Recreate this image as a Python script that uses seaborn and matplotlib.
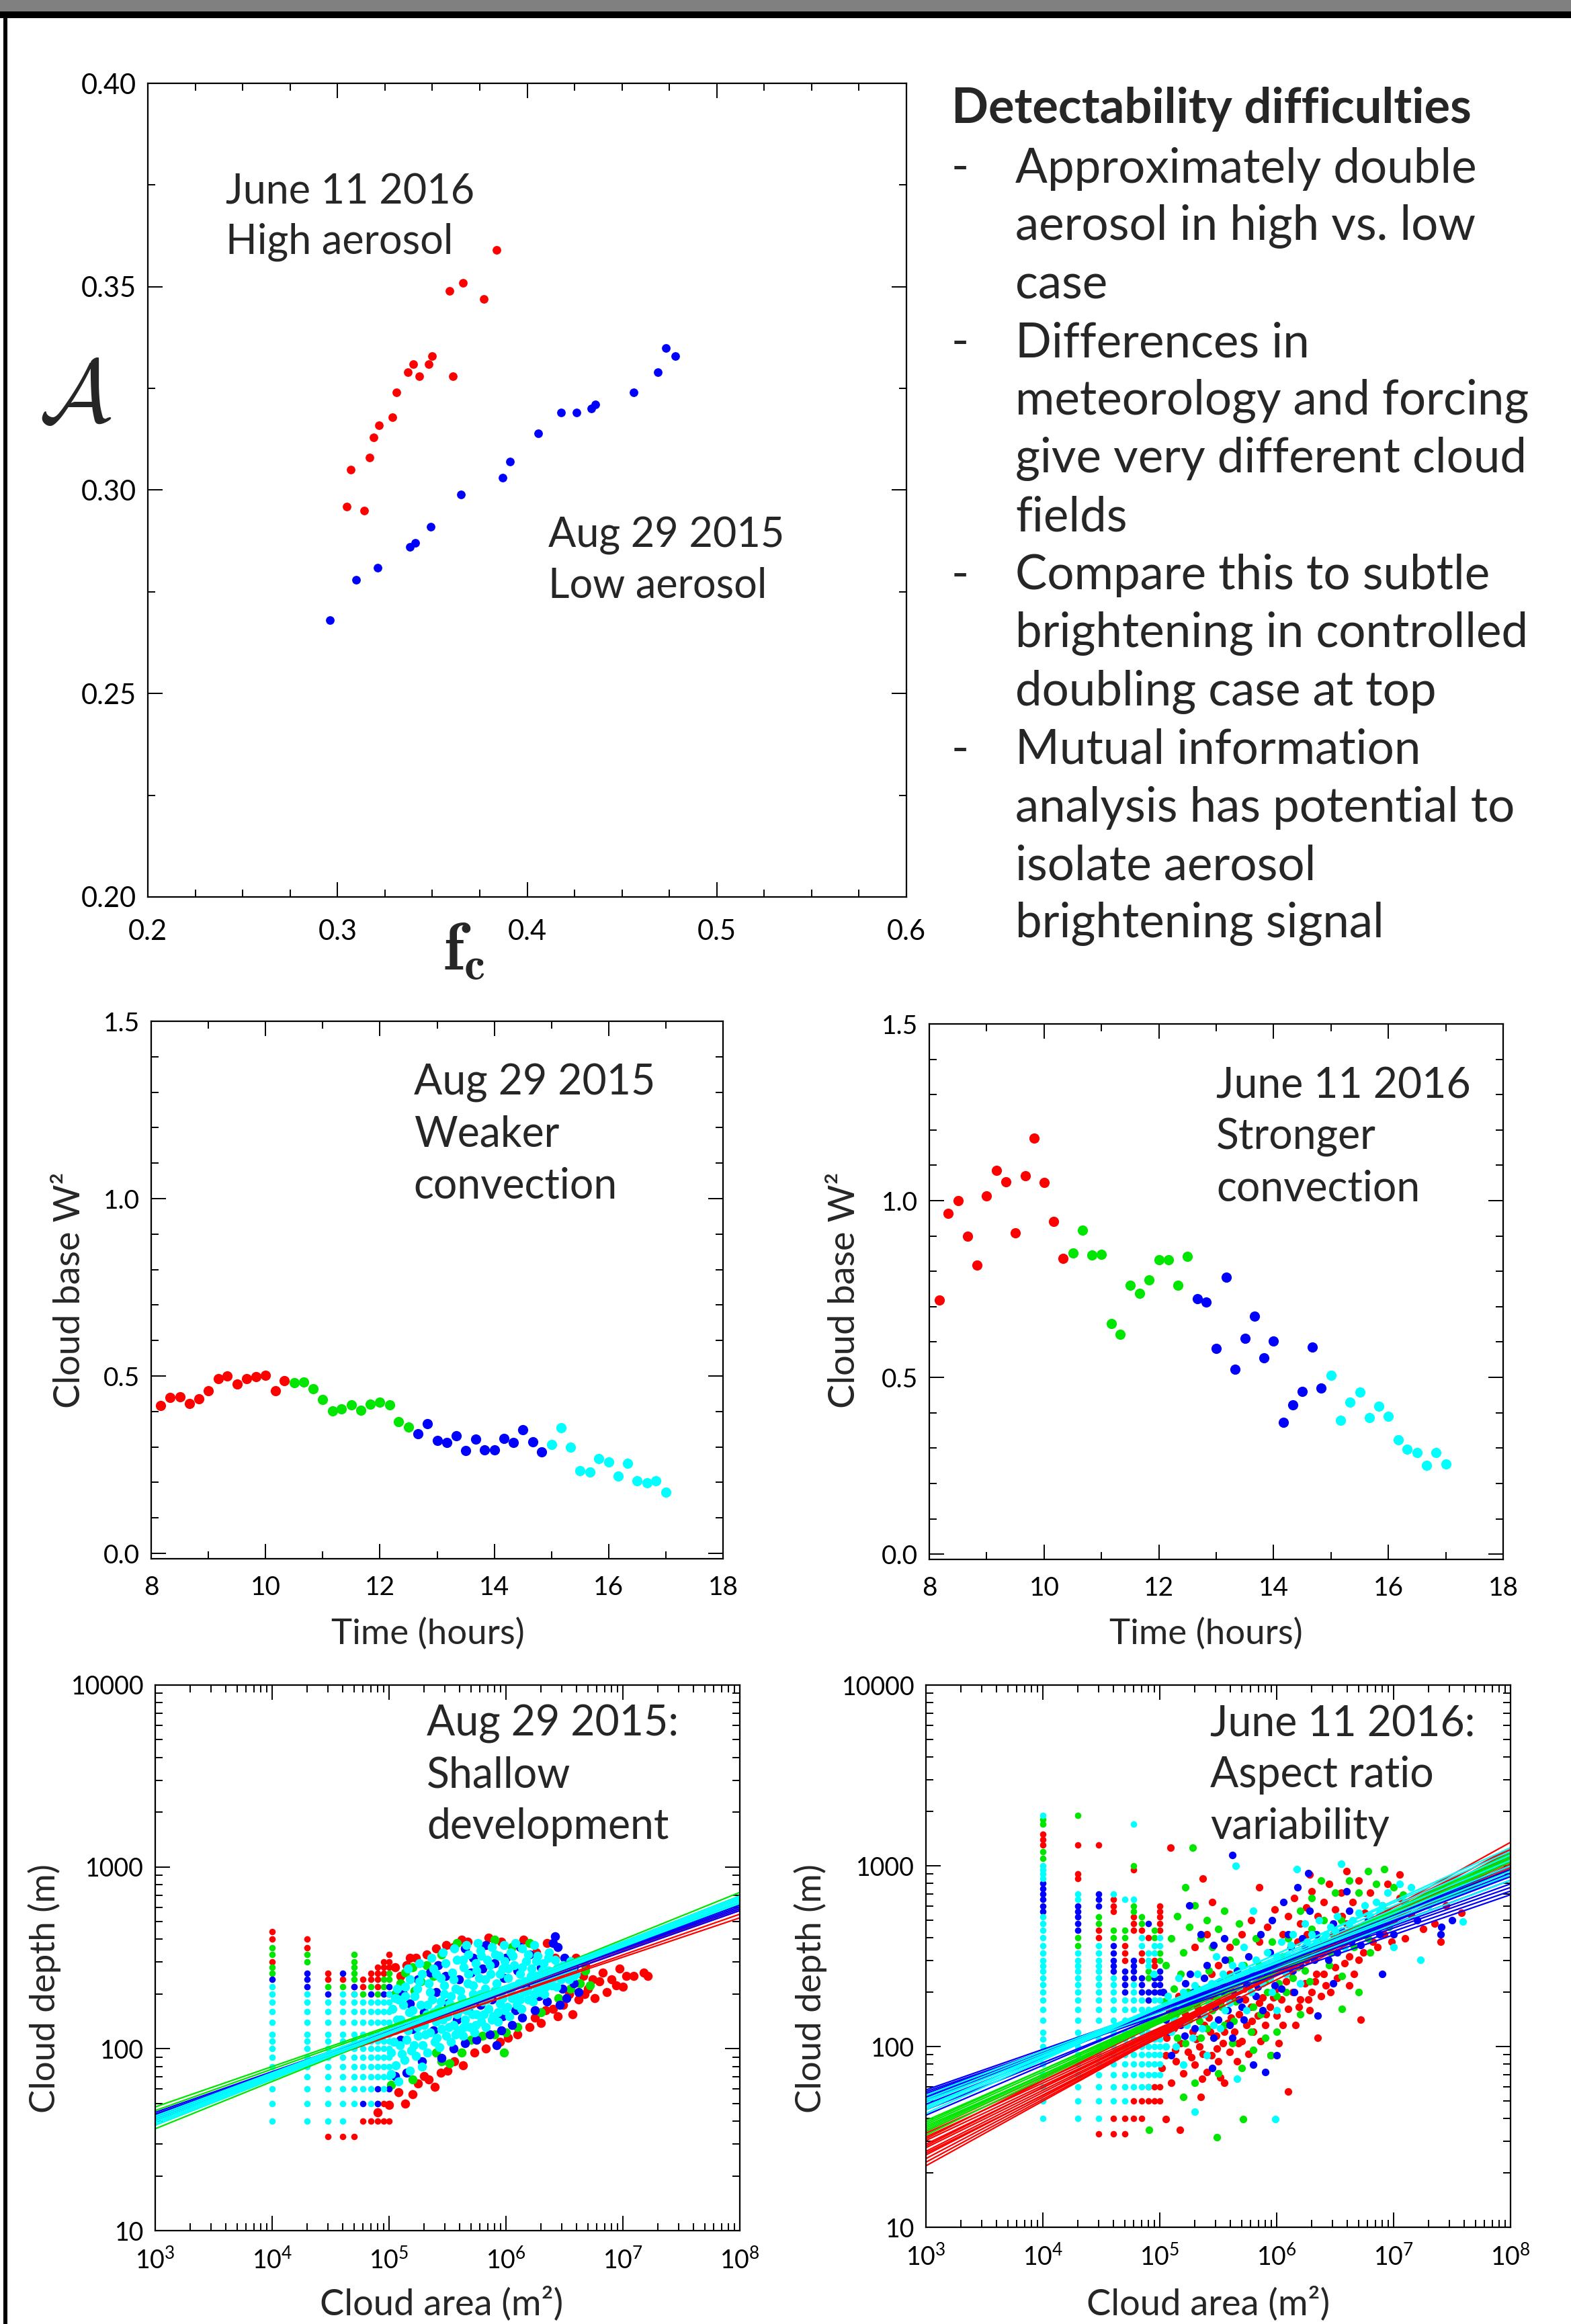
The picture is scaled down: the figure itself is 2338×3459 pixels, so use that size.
import numpy as np
import matplotlib
matplotlib.use('Agg')
import matplotlib.pyplot as plt
import seaborn as sns
from matplotlib.patches import Rectangle
from matplotlib.ticker import MultipleLocator, FixedLocator, LogLocator, NullFormatter, FormatStrFormatter

W, H = 2338, 3459
RED, GREEN, BLUE, CYAN = '#ff0000', '#00e600', '#0000ff', '#00ffff'

# ---- top panel: albedo A vs cloud fraction fc
TOP_FC_HIGH = [0.384, 0.366, 0.359, 0.377, 0.350, 0.340, 0.348, 0.337, 0.343, 0.361, 0.331, 0.329, 0.322, 0.319, 0.317, 0.307, 0.305, 0.314]
TOP_A_HIGH = [0.359, 0.351, 0.349, 0.347, 0.333, 0.331, 0.331, 0.329, 0.328, 0.328, 0.324, 0.318, 0.316, 0.313, 0.308, 0.305, 0.296, 0.295]
TOP_FC_LOW = [0.473, 0.478, 0.469, 0.456, 0.436, 0.434, 0.426, 0.418, 0.406, 0.391, 0.387, 0.365, 0.349, 0.341, 0.338, 0.321, 0.310, 0.296]
TOP_A_LOW = [0.335, 0.333, 0.329, 0.324, 0.321, 0.320, 0.319, 0.319, 0.314, 0.307, 0.303, 0.299, 0.291, 0.287, 0.286, 0.281, 0.278, 0.268]

# ---- middle panels: cloud base W^2 vs time
T_RED = [8.17, 8.33, 8.50, 8.67, 8.83, 9.00, 9.17, 9.33, 9.50, 9.67, 9.83, 10.00, 10.17, 10.33]
T_GREEN = [10.50, 10.67, 10.83, 11.00, 11.17, 11.33, 11.50, 11.67, 11.83, 12.00, 12.17, 12.33, 12.50]
T_BLUE = [12.67, 12.83, 13.00, 13.17, 13.33, 13.50, 13.67, 13.83, 14.00, 14.17, 14.33, 14.50, 14.67, 14.83]
T_CYAN = [15.00, 15.17, 15.33, 15.50, 15.67, 15.83, 16.00, 16.17, 16.33, 16.50, 16.67, 16.83, 17.00]

AUG_W2_RED = [0.416, 0.440, 0.442, 0.423, 0.436, 0.459, 0.493, 0.501, 0.478, 0.492, 0.498, 0.502, 0.459, 0.486]
AUG_W2_GREEN = [0.481, 0.483, 0.464, 0.433, 0.402, 0.408, 0.418, 0.404, 0.421, 0.426, 0.418, 0.372, 0.356]
AUG_W2_BLUE = [0.337, 0.366, 0.319, 0.312, 0.332, 0.290, 0.323, 0.291, 0.291, 0.324, 0.313, 0.348, 0.315, 0.287]
AUG_W2_CYAN = [0.307, 0.354, 0.299, 0.234, 0.230, 0.267, 0.258, 0.217, 0.253, 0.204, 0.199, 0.205, 0.173]

JUN_W2_RED = [0.719, 0.964, 1.001, 0.899, 0.818, 1.014, 1.086, 1.054, 0.908, 1.070, 1.176, 1.052, 0.941, 0.837]
JUN_W2_GREEN = [0.851, 0.917, 0.847, 0.848, 0.652, 0.622, 0.761, 0.737, 0.775, 0.832, 0.832, 0.761, 0.842]
JUN_W2_BLUE = [0.723, 0.713, 0.582, 0.784, 0.522, 0.610, 0.674, 0.556, 0.602, 0.372, 0.422, 0.460, 0.585, 0.470]
JUN_W2_CYAN = [0.505, 0.378, 0.429, 0.459, 0.386, 0.418, 0.390, 0.323, 0.297, 0.288, 0.252, 0.287, 0.255]

# ---- bottom panels: cloud depth vs cloud area
# small clouds sit on the grid: discrete areas, depths on model levels
DEPTH_LEVELS = [33, 40, 50, 60, 70, 80, 90, 100, 110, 120, 140, 160, 180, 200, 220, 240, 260, 280, 300,
                330, 360, 400, 440, 480, 520, 560, 600, 650, 700, 750, 800, 850, 900, 950, 1000,
                1100, 1200, 1300, 1400, 1500, 1600, 1700, 1800, 1900]

AUG_RED_STRIPES = [(1e4, [(300, 300), (400, 440)]), (2e4, [(360, 400)]), (3e4, [(33, 33), (240, 260)]),
                   (4e4, [(33, 33), (240, 240)]), (5e4, [(33, 33), (200, 220)]), (6e4, [(40, 40), (220, 240)]),
                   (7e4, [(40, 40), (240, 260)]), (8e4, [(40, 50), (220, 280)]), (9e4, [(40, 50), (260, 300)]),
                   (1e5, [(40, 50), (280, 330)])]
AUG_GREEN_STRIPES = [(1e4, [(260, 280), (330, 360)]), (2e4, [(300, 330)]), (3e4, [(220, 220)]), (4e4, [(220, 220)]),
                     (5e4, [(240, 330)]), (6e4, [(200, 200)]), (7e4, [(220, 220)]), (8e4, [(200, 200)]),
                     (9e4, [(220, 240)]), (1e5, [(240, 260)])]
AUG_BLUE_STRIPES = [(1e4, [(240, 240)]), (2e4, [(220, 260)]), (3e4, [(200, 200)]), (4e4, [(260, 260)]),
                    (5e4, [(220, 220)]), (6e4, [(50, 50)]), (7e4, [(200, 200)]), (8e4, [(50, 60)]),
                    (9e4, [(200, 200)]), (1e5, [(60, 60), (200, 220)])]
AUG_CYAN_STRIPES = [(1e4, [(40, 220)]), (2e4, [(40, 200)]), (3e4, [(40, 180)]), (4e4, [(40, 200)]),
                    (5e4, [(50, 200)]), (6e4, [(60, 180)]), (7e4, [(50, 180)]), (8e4, [(70, 180)]),
                    (9e4, [(60, 180)]), (1e5, [(70, 200)])]

JUN_RED_STRIPES = [(1e4, [(1300, 1500)]), (2e4, [(850, 900), (1300, 1300)]), (3e4, [(33, 33), (400, 440), (1300, 1300)]),
                   (4e4, [(33, 40), (560, 650)]), (5e4, [(33, 40), (300, 360)]), (6e4, [(40, 50), (440, 520), (950, 950)]),
                   (7e4, [(40, 50), (300, 330), (440, 440)]), (8e4, [(50, 60), (400, 400)]), (9e4, [(50, 60), (280, 300)]),
                   (1e5, [(50, 60), (440, 600)])]
JUN_GREEN_STRIPES = [(1e4, [(1100, 1200), (1700, 1800)]), (2e4, [(360, 400), (1900, 1900)]), (3e4, [(480, 520)]),
                     (4e4, [(400, 440)]), (5e4, [(400, 440)]), (6e4, [(560, 600), (1000, 1000)]), (7e4, [(480, 520)]),
                     (8e4, [(240, 260)]), (9e4, [(400, 440)]), (1e5, [(300, 330)])]
JUN_BLUE_STRIPES = [(1e4, [(560, 800)]), (2e4, [(420, 600)]), (3e4, [(600, 700)]), (4e4, [(260, 360)]),
                    (5e4, [(200, 260)]), (6e4, [(240, 300)]), (7e4, [(200, 240)]), (8e4, [(180, 200), (480, 480)]),
                    (9e4, [(200, 240)]), (1e5, [(200, 260)])]
JUN_CYAN_STRIPES = [(1e4, [(40, 520), (850, 1000), (1900, 1900)]), (2e4, [(40, 330), (650, 700)]), (3e4, [(40, 360)]),
                    (4e4, [(50, 240), (700, 700)]), (5e4, [(50, 180), (650, 650)]),
                    (6e4, [(60, 220), (650, 650), (1700, 1700)]), (7e4, [(60, 180), (360, 400)]), (8e4, [(60, 160), (280, 330)]),
                    (9e4, [(70, 180), (330, 360)]), (1e5, [(70, 180), (360, 400)])]

# larger clouds, (log10 area, log10 depth)
AUG_RED_CLOUD = [(5.18, 2.50), (5.23, 2.50), (5.49, 2.57), (5.55, 2.56), (5.67, 2.59), (5.96, 2.59), (6.26, 2.53),
                 (6.42, 2.50), (6.97, 2.44), (7.03, 2.40), (7.09, 2.40), (7.21, 2.40), (7.18, 2.42), (6.94, 2.35),
                 (6.86, 2.31), (6.80, 2.37), (6.74, 2.38), (6.67, 2.30), (6.57, 2.19), (6.49, 2.24), (6.34, 2.21),
                 (6.02, 2.06), (5.83, 2.00), (5.73, 1.98), (5.63, 1.91), (5.56, 1.93), (5.44, 1.87), (5.39, 1.79),
                 (5.25, 1.81), (5.14, 1.70), (5.00, 1.69), (4.90, 1.65), (6.70, 2.33), (6.76, 2.28), (6.62, 2.27),
                 (6.90, 2.38), (7.00, 2.34), (6.83, 2.42), (6.66, 2.40), (6.54, 2.30), (6.44, 2.18), (6.20, 2.12),
                 (6.10, 2.08), (5.95, 2.04), (5.30, 1.85), (5.50, 1.88), (5.10, 2.40), (5.05, 2.45), (5.15, 2.46),
                 (5.32, 2.52), (5.40, 2.55), (5.62, 2.60), (5.85, 2.61), (6.15, 2.60), (6.35, 2.58), (6.60, 2.50),
                 (6.68, 2.46), (6.25, 2.17), (5.08, 1.76), (5.20, 1.75), (5.34, 1.83), (6.30, 2.14), (6.40, 2.22)]
AUG_GREEN_CLOUD = [(5.10, 2.36), (5.14, 2.42), (5.20, 2.45), (5.27, 2.37), (5.32, 2.46), (5.22, 2.32), (5.38, 2.40),
                   (5.45, 2.52), (5.58, 2.58), (5.90, 2.60), (6.20, 2.58), (6.05, 2.56), (5.70, 2.05), (5.80, 2.07),
                   (5.90, 2.08), (6.00, 2.09), (5.62, 1.98), (5.52, 1.92), (5.45, 1.93), (6.10, 2.12), (6.30, 2.20),
                   (6.45, 2.28), (6.55, 2.33), (6.63, 2.36), (6.68, 2.43), (6.72, 2.35), (5.98, 1.98), (5.40, 1.98),
                   (5.05, 2.30), (5.02, 1.80), (5.20, 1.83)]
AUG_BLUE_CLOUD = [(5.10, 2.05), (5.20, 2.11), (5.18, 2.25), (5.30, 2.20), (5.28, 1.93), (5.38, 2.10), (5.40, 2.31),
                  (5.45, 1.95), (5.50, 2.25), (5.48, 2.40), (5.58, 2.16), (5.60, 2.38), (5.55, 2.00), (5.68, 2.21),
                  (5.70, 2.42), (5.65, 2.03), (5.78, 2.24), (5.80, 2.44), (5.75, 2.05), (5.88, 2.27), (5.90, 2.47),
                  (5.86, 2.08), (5.97, 2.18), (5.98, 2.39), (6.00, 2.50), (5.96, 2.10), (6.08, 2.21), (6.10, 2.43),
                  (6.05, 2.13), (6.18, 2.33), (6.20, 2.52), (6.14, 2.17), (6.28, 2.29), (6.30, 2.45), (6.25, 2.21),
                  (6.38, 2.40), (6.40, 2.58), (6.42, 2.62), (6.44, 2.56), (6.35, 2.26), (6.48, 2.33), (6.50, 2.50),
                  (6.58, 2.36), (6.62, 2.31), (6.52, 2.28), (5.05, 1.85), (5.15, 1.87), (5.35, 2.42), (5.25, 2.38),
                  (5.92, 2.02), (6.12, 2.56), (5.83, 2.57), (5.65, 2.55), (6.46, 2.24), (6.58, 2.45), (5.12, 2.30),
                  (5.42, 2.46), (5.72, 2.50)]
AUG_CYAN_CLOUD = [(5.02, 1.98), (5.05, 2.10), (5.03, 2.22), (5.07, 2.33), (5.09, 2.02), (5.06, 1.91), (5.10, 2.16),
                  (5.08, 2.27), (5.13, 1.94), (5.15, 2.05), (5.12, 2.12), (5.17, 2.20), (5.14, 2.29), (5.18, 2.38),
                  (5.19, 1.99), (5.16, 2.44), (5.23, 1.96), (5.25, 2.07), (5.22, 2.16), (5.27, 2.24), (5.24, 2.33),
                  (5.28, 2.41), (5.29, 2.02), (5.26, 2.47), (5.30, 2.13), (5.33, 1.98), (5.35, 2.09), (5.32, 2.19),
                  (5.37, 2.27), (5.34, 2.36), (5.38, 2.44), (5.39, 2.04), (5.36, 2.50), (5.40, 2.15), (5.43, 2.01),
                  (5.45, 2.11), (5.42, 2.22), (5.47, 2.30), (5.44, 2.39), (5.48, 2.47), (5.49, 2.07), (5.46, 2.53),
                  (5.50, 2.18), (5.53, 2.04), (5.55, 2.13), (5.52, 2.25), (5.57, 2.33), (5.54, 2.42), (5.58, 2.49),
                  (5.59, 2.10), (5.56, 2.55), (5.60, 2.21), (5.63, 2.07), (5.65, 2.16), (5.62, 2.28), (5.67, 2.36),
                  (5.64, 2.45), (5.68, 2.52), (5.69, 2.12), (5.66, 2.57), (5.70, 2.24), (5.73, 2.09), (5.75, 2.19),
                  (5.72, 2.30), (5.77, 2.39), (5.74, 2.47), (5.78, 2.54), (5.79, 2.15), (5.76, 2.58), (5.80, 2.26),
                  (5.83, 2.12), (5.85, 2.22), (5.82, 2.33), (5.87, 2.41), (5.84, 2.49), (5.88, 2.56), (5.89, 2.18),
                  (5.86, 2.29), (5.93, 2.15), (5.95, 2.25), (5.92, 2.36), (5.97, 2.44), (5.94, 2.51), (5.98, 2.57),
                  (5.99, 2.21), (5.96, 2.31), (6.03, 2.18), (6.05, 2.28), (6.02, 2.39), (6.07, 2.46), (6.04, 2.53),
                  (6.08, 2.58), (6.09, 2.24), (6.06, 2.34), (6.13, 2.22), (6.15, 2.31), (6.12, 2.41), (6.17, 2.48),
                  (6.14, 2.55), (6.19, 2.27), (6.16, 2.37), (6.23, 2.26), (6.25, 2.35), (6.22, 2.44), (6.27, 2.51),
                  (6.24, 2.57), (6.29, 2.31), (6.26, 2.40), (6.33, 2.30), (6.35, 2.39), (6.32, 2.47), (6.37, 2.53),
                  (6.39, 2.35), (6.36, 2.43), (6.43, 2.34), (6.45, 2.42), (6.42, 2.49), (6.47, 2.38), (6.49, 2.46),
                  (6.54, 2.38), (6.57, 2.44), (6.60, 2.41), (6.55, 2.48),
                  (5.04, 2.04), (5.07, 2.16), (5.05, 2.28), (5.11, 1.97), (5.12, 2.24), (5.16, 2.10), (5.14, 2.34),
                  (5.21, 2.02), (5.20, 2.21), (5.24, 2.12), (5.22, 2.29), (5.26, 2.37), (5.31, 2.08), (5.33, 2.24),
                  (5.35, 2.31), (5.38, 2.20), (5.41, 2.06), (5.40, 2.41), (5.44, 2.26), (5.46, 2.16), (5.47, 2.35),
                  (5.51, 2.12), (5.53, 2.29), (5.55, 2.38), (5.57, 2.08), (5.58, 2.19), (5.61, 2.32), (5.63, 2.49),
                  (5.64, 2.12), (5.66, 2.21), (5.68, 2.41), (5.71, 2.19), (5.72, 2.35), (5.74, 2.13), (5.75, 2.43),
                  (5.78, 2.30), (5.79, 2.51), (5.81, 2.19), (5.82, 2.38), (5.84, 2.27), (5.86, 2.46), (5.88, 2.16),
                  (5.90, 2.32), (5.91, 2.52), (5.93, 2.20), (5.95, 2.41), (5.97, 2.28), (5.99, 2.48), (6.01, 2.23),
                  (6.02, 2.44), (6.04, 2.32), (6.06, 2.51), (6.08, 2.29), (6.11, 2.36), (6.12, 2.27), (6.14, 2.45),
                  (6.18, 2.32), (6.19, 2.52), (6.21, 2.40), (6.24, 2.30), (6.26, 2.48), (6.30, 2.36), (6.31, 2.43),
                  (6.34, 2.34), (6.36, 2.50), (6.40, 2.39), (6.44, 2.45), (6.46, 2.40), (6.52, 2.43), (6.58, 2.40),
                  (5.02, 1.86), (5.08, 1.82), (5.18, 1.88), (5.28, 1.90)]

JUN_RED_CLOUD = [(5.10, 1.80), (5.14, 1.92), (5.18, 2.02), (5.12, 2.10), (5.20, 1.85), (5.24, 1.97), (5.28, 2.08),
                 (5.22, 2.18), (5.30, 1.90), (5.34, 2.00), (5.38, 2.12), (5.32, 2.22), (5.40, 1.86), (5.44, 1.95),
                 (5.48, 2.06), (5.42, 2.16), (5.46, 2.28), (5.50, 1.92), (5.54, 2.02), (5.58, 2.13), (5.52, 2.24),
                 (5.56, 2.33), (5.60, 1.97), (5.64, 2.08), (5.68, 2.18), (5.62, 2.27), (5.70, 2.03), (5.74, 2.12),
                 (5.78, 2.22), (5.72, 2.32), (5.80, 2.08), (5.84, 2.17), (5.88, 2.27), (5.82, 2.37), (5.90, 2.12),
                 (5.94, 2.22), (5.98, 2.31), (6.00, 2.17), (6.04, 2.26), (6.08, 2.36), (6.10, 2.21), (6.14, 2.30),
                 (6.20, 2.26), (6.24, 2.35), (6.30, 2.30), (5.17, 1.54), (5.05, 1.60), (5.35, 1.72), (6.10, 1.75),
                 (5.55, 1.80), (5.95, 1.95), (6.35, 2.05), (6.72, 2.15), (5.60, 2.55), (5.70, 2.62), (5.78, 2.70),
                 (5.85, 2.58), (5.92, 2.66), (5.98, 2.76), (6.05, 2.62), (6.10, 2.72), (6.15, 2.82), (6.20, 2.68),
                 (6.25, 2.77), (6.30, 2.86), (6.35, 2.72), (6.40, 2.80), (6.45, 2.90), (6.50, 2.76), (6.55, 2.85),
                 (6.60, 2.68), (6.65, 2.80), (6.70, 2.92), (6.75, 2.74), (6.80, 2.85), (6.85, 2.65), (6.90, 2.78),
                 (6.95, 2.90), (7.00, 2.70), (7.05, 2.82), (7.10, 2.60), (7.15, 2.73), (7.25, 2.65), (7.35, 2.68),
                 (7.58, 2.74), (7.40, 2.58), (6.45, 2.55), (6.62, 2.50), (6.25, 2.48), (5.50, 2.45), (5.40, 2.62),
                 (5.30, 2.55), (5.45, 2.80), (5.09, 3.10), (5.37, 2.93), (5.85, 2.88), (6.28, 2.95), (6.60, 2.97),
                 (7.05, 2.95), (7.45, 2.78), (6.40, 2.40),
                 (5.05, 1.95), (5.08, 2.20), (5.16, 2.28), (5.26, 2.26), (5.36, 1.82), (5.44, 2.40), (5.52, 1.83),
                 (5.60, 2.40), (5.66, 1.92), (5.76, 1.96), (5.86, 2.03), (5.92, 2.40), (6.02, 2.02), (6.06, 2.45),
                 (6.16, 2.12), (6.22, 2.50), (6.28, 2.20), (6.34, 2.40), (6.38, 2.28), (6.46, 2.30), (6.52, 2.38),
                 (6.58, 2.46), (6.66, 2.40), (6.74, 2.52), (6.82, 2.58), (6.92, 2.62), (6.26, 2.62), (6.18, 2.58),
                 (6.48, 2.62), (6.56, 2.72),
                 (5.02, 1.88), (5.06, 2.05), (5.13, 1.98), (5.19, 2.14), (5.27, 1.94), (5.31, 2.04), (5.37, 1.96),
                 (5.43, 2.08), (5.49, 1.99), (5.55, 2.08), (5.61, 2.16), (5.67, 2.02), (5.73, 2.26), (5.79, 2.14),
                 (5.85, 2.24), (5.91, 2.18), (5.97, 2.27), (6.05, 2.12), (6.12, 2.40), (6.19, 2.22), (6.27, 2.26),
                 (6.33, 2.36), (6.42, 2.34), (6.50, 2.44), (6.62, 2.34), (6.70, 2.48), (6.86, 2.55), (6.98, 2.58)]
JUN_GREEN_CLOUD = [(5.05, 2.45), (5.10, 2.60), (5.15, 2.72), (5.20, 2.52), (5.25, 2.66), (5.30, 2.78), (5.22, 2.88),
                   (5.35, 2.60), (5.40, 2.70), (5.45, 2.55), (5.50, 2.65), (5.55, 2.75), (5.60, 2.48), (5.65, 2.58),
                   (5.28, 3.10), (5.18, 2.40), (5.42, 2.42), (5.15, 2.05), (5.25, 2.15), (5.35, 2.05), (5.45, 2.20),
                   (5.55, 2.12), (5.65, 2.25), (5.75, 2.35), (5.85, 2.45), (5.95, 2.42), (6.05, 2.50), (6.12, 2.45),
                   (5.70, 1.88), (5.80, 1.98), (5.90, 2.05), (6.00, 2.08), (6.20, 2.18), (5.50, 1.85), (5.30, 1.80),
                   (5.20, 1.72), (6.10, 2.60), (6.20, 2.75), (6.30, 2.65), (6.40, 2.70), (6.50, 2.85), (6.55, 2.70),
                   (6.62, 2.92), (6.70, 2.85), (6.78, 2.97), (6.85, 2.90), (6.92, 2.98), (7.00, 2.88), (7.08, 2.84),
                   (6.95, 2.75), (6.68, 2.62), (6.38, 2.92), (6.80, 2.52), (6.56, 2.39), (6.70, 2.30), (6.45, 2.45),
                   (5.71, 1.60), (5.49, 1.50), (4.91, 1.54), (6.56, 2.21), (5.95, 1.95),
                   (5.12, 2.32), (5.22, 2.02), (5.32, 2.32), (5.40, 2.10), (5.48, 2.28), (5.58, 2.38), (5.62, 2.02),
                   (5.72, 2.45), (5.78, 2.08), (5.86, 2.18), (5.92, 2.30), (6.02, 2.35), (6.14, 2.38), (6.24, 2.42),
                   (6.32, 2.50), (6.42, 2.55), (6.50, 2.60), (6.60, 2.62), (6.74, 2.62), (6.86, 2.70), (5.68, 2.68),
                   (5.82, 2.60), (5.96, 2.58), (6.30, 2.82),
                   (5.04, 2.25), (5.14, 2.18), (5.24, 2.30), (5.34, 2.14), (5.44, 2.32), (5.53, 2.22), (5.63, 2.14),
                   (5.69, 2.36), (5.80, 2.22), (5.90, 2.36), (6.00, 2.28), (6.08, 2.30), (6.18, 2.44), (6.28, 2.36),
                   (6.36, 2.58), (6.46, 2.52), (6.58, 2.58), (6.66, 2.55), (6.78, 2.60), (6.96, 2.66)]
JUN_BLUE_CLOUD = [(5.15, 2.25), (5.22, 2.35), (5.30, 2.10), (5.36, 2.30), (5.40, 2.45), (5.46, 2.05), (5.52, 2.36),
                  (5.58, 2.20), (5.62, 2.05), (5.66, 2.42), (5.72, 2.15), (5.76, 2.50), (5.82, 2.28), (5.86, 2.62),
                  (5.92, 2.40), (5.96, 2.70), (6.02, 2.45), (6.06, 2.80), (6.12, 2.55), (6.18, 2.88), (6.22, 2.60),
                  (6.28, 2.75), (6.34, 2.62), (6.40, 2.55), (6.48, 2.68), (6.55, 2.60), (6.62, 2.75), (6.70, 2.65),
                  (6.78, 2.70), (6.88, 2.62), (6.98, 2.72), (7.10, 2.78), (7.20, 2.70), (7.30, 2.82), (7.40, 2.62),
                  (7.50, 2.70), (5.62, 3.06), (5.25, 2.78), (5.10, 1.95), (5.45, 1.88), (5.80, 1.90), (6.00, 1.95),
                  (6.35, 2.17), (6.90, 2.40), (7.41, 2.66), (6.27, 2.96), (5.55, 2.60), (5.35, 2.62), (6.15, 2.30),
                  (6.48, 2.35), (5.05, 2.15), (5.90, 1.86), (6.60, 2.86),
                  (5.08, 2.08), (5.18, 2.12), (5.26, 2.40), (5.34, 2.18), (5.42, 2.28), (5.50, 2.15), (5.56, 2.48),
                  (5.64, 2.30), (5.70, 2.22), (5.78, 2.42), (5.88, 2.20), (5.94, 2.52), (6.04, 2.32), (6.10, 2.62),
                  (6.20, 2.45), (6.26, 2.52), (6.32, 2.48), (6.44, 2.48), (6.52, 2.52), (6.64, 2.58), (6.72, 2.56),
                  (6.84, 2.66), (7.00, 2.62), (5.46, 2.56),
                  (5.03, 2.30), (5.13, 2.20), (5.21, 2.06), (5.29, 2.30), (5.38, 2.38), (5.47, 2.22), (5.54, 2.30),
                  (5.60, 2.12), (5.68, 2.26), (5.74, 2.35), (5.84, 2.33), (5.98, 2.34), (6.08, 2.48), (6.14, 2.42),
                  (6.24, 2.55), (6.38, 2.52), (6.56, 2.64), (6.76, 2.62), (6.92, 2.68)]
JUN_CYAN_CLOUD = [(5.05, 2.00), (5.12, 2.15), (5.20, 2.30), (5.28, 2.05), (5.32, 2.40), (5.38, 2.18), (5.44, 2.35),
                  (5.48, 2.50), (5.52, 2.10), (5.58, 2.28), (5.62, 2.45), (5.68, 2.32), (5.72, 2.55), (5.76, 2.38),
                  (5.82, 2.48), (5.88, 2.35), (5.92, 2.52), (5.98, 2.45), (6.04, 2.58), (6.08, 2.40), (6.14, 2.62),
                  (6.18, 2.50), (6.24, 2.68), (6.30, 2.55), (6.36, 2.70), (6.42, 2.62), (6.52, 2.72), (6.58, 2.55),
                  (6.65, 2.70), (6.75, 2.78), (6.85, 2.80), (6.95, 2.85), (7.05, 2.90), (7.15, 2.88), (7.30, 2.78),
                  (5.66, 1.82), (5.99, 1.60), (5.30, 1.64), (6.17, 2.98), (6.55, 3.01), (7.23, 2.48), (7.59, 2.69),
                  (6.00, 2.20), (5.20, 1.90), (5.40, 1.95), (5.65, 3.00), (5.80, 2.75), (6.20, 2.35), (7.00, 2.55),
                  (4.95, 2.40),
                  (5.10, 2.08), (5.16, 2.38), (5.24, 2.22), (5.34, 2.28), (5.42, 2.24), (5.50, 2.30), (5.56, 2.20),
                  (5.64, 2.38), (5.70, 2.45), (5.78, 2.30), (5.84, 2.40), (5.94, 2.38), (6.00, 2.50), (6.10, 2.50),
                  (6.16, 2.44), (6.26, 2.58), (6.34, 2.58), (6.46, 2.66), (6.62, 2.68), (6.80, 2.72), (6.90, 2.78),
                  (7.10, 2.80),
                  (5.07, 2.28), (5.14, 2.00), (5.23, 2.12), (5.30, 2.34), (5.36, 2.10), (5.46, 2.12), (5.54, 2.40),
                  (5.60, 2.24), (5.74, 2.20), (5.82, 2.36), (5.90, 2.44), (5.96, 2.30), (6.06, 2.42), (6.12, 2.56),
                  (6.22, 2.52), (6.30, 2.62), (6.40, 2.60), (6.50, 2.64), (6.70, 2.74), (6.88, 2.74)]

# power-law fits, (log10 depth at 1e3 m2, log10 depth at 1e8 m2)
AUG_RED_FITS = [(1.62, 2.74), (1.63, 2.76), (1.64, 2.72), (1.62, 2.78), (1.61, 2.77)]
AUG_GREEN_FITS = [(1.56, 2.86), (1.58, 2.84), (1.66, 2.80), (1.68, 2.79), (1.60, 2.82)]
AUG_BLUE_FITS = [(1.62, 2.79), (1.64, 2.78), (1.63, 2.76), (1.65, 2.77), (1.61, 2.80)]
AUG_CYAN_FITS = [(1.59, 2.82), (1.60, 2.83), (1.61, 2.81), (1.62, 2.80), (1.63, 2.82), (1.58, 2.84), (1.60, 2.80), (1.62, 2.83)]
JUN_RED_FITS = [(1.34, 3.13), (1.36, 3.10), (1.38, 3.08), (1.40, 3.06), (1.42, 3.05), (1.44, 3.03), (1.46, 3.02),
                (1.48, 3.00), (1.50, 2.99), (1.52, 2.98), (1.45, 3.07), (1.41, 3.01), (1.53, 3.04), (1.49, 3.09)]
JUN_GREEN_FITS = [(1.51, 3.07), (1.53, 3.05), (1.55, 3.03), (1.57, 3.02), (1.59, 3.00), (1.56, 2.98), (1.54, 3.06), (1.58, 3.04)]
JUN_BLUE_FITS = [(1.70, 2.98), (1.72, 2.94), (1.74, 2.90), (1.75, 2.86), (1.73, 2.84), (1.71, 2.92), (1.68, 2.96),
                 (1.76, 2.88), (1.65, 2.95), (1.62, 3.00)]
JUN_CYAN_FITS = [(1.63, 3.10), (1.65, 3.06), (1.67, 3.03), (1.69, 3.00), (1.71, 2.97), (1.73, 2.95), (1.66, 3.08), (1.70, 2.92)]

RIGHT_TITLE = 'Detectability difficulties'
RIGHT_ITEMS = [
    ['Approximately double', 'aerosol in high vs. low', 'case'],
    ['Differences in', 'meteorology and forcing', 'give very different cloud', 'fields'],
    ['Compare this to subtle', 'brightening in controlled', 'doubling case at top'],
    ['Mutual information', 'analysis has potential to', 'isolate aerosol', 'brightening signal'],
]

sns.set_theme(style='ticks')
plt.rcParams['font.family'] = ['Lato', 'DejaVu Sans']
plt.rcParams['mathtext.default'] = 'regular'
plt.rcParams['axes.edgecolor'] = 'black'
plt.rcParams['xtick.color'] = 'black'
plt.rcParams['ytick.color'] = 'black'

fig = plt.figure(figsize=(W / 100, H / 100), dpi=100)
fig.patch.set_facecolor('white')


def px_axes(left, top, right, bottom):
    return fig.add_axes([left / W, 1 - bottom / H, (right - left) / W, (bottom - top) / H])


def ftext(x, y, s, **kw):
    return fig.text(x / W, 1 - y / H, s, **kw)


def style(ax, size, xpad=18, ypad=12):
    for sp in ax.spines.values():
        sp.set_visible(True)
        sp.set_linewidth(1.6)
    ax.tick_params(which='both', direction='in', top=True, right=True, width=1.4, labelsize=size)
    ax.tick_params(which='major', length=16)
    ax.tick_params(which='minor', length=8)
    ax.tick_params(axis='x', pad=xpad)
    ax.tick_params(axis='y', pad=ypad)
    ax.set_xlabel('')
    ax.set_ylabel('')


def stripe_points(stripes):
    xs, ys = [], []
    for area, ranges in stripes:
        for lo, hi in ranges:
            for d in DEPTH_LEVELS:
                if lo <= d <= hi:
                    xs.append(area)
                    ys.append(d)
    return xs, ys


# frame bits of the slide
fig.add_artist(Rectangle((0, 1 - 17 / H), 1, 17 / H, transform=fig.transFigure, color='#808080', lw=0))
fig.add_artist(Rectangle((0, 1 - 27 / H), 1, 10 / H, transform=fig.transFigure, color='black', lw=0))
fig.add_artist(Rectangle((5 / W, 0), 6 / W, 1 - 17 / H, transform=fig.transFigure, color='black', lw=0))

# ---------------- top panel
ax0 = px_axes(220, 124, 1349, 1335)
sns.scatterplot(x=TOP_FC_HIGH, y=TOP_A_HIGH, color=RED, s=85, linewidth=0, ax=ax0)
sns.scatterplot(x=TOP_FC_LOW, y=TOP_A_LOW, color=BLUE, s=85, linewidth=0, ax=ax0)
ax0.set_xlim(0.2, 0.6)
ax0.set_ylim(0.2, 0.4)
ax0.xaxis.set_major_locator(MultipleLocator(0.1))
ax0.xaxis.set_minor_locator(MultipleLocator(0.025))
ax0.yaxis.set_major_locator(MultipleLocator(0.05))
ax0.yaxis.set_minor_locator(MultipleLocator(0.025))
ax0.xaxis.set_major_formatter(FormatStrFormatter('%.1f'))
ax0.yaxis.set_major_formatter(FormatStrFormatter('%.2f'))
style(ax0, 30, xpad=24, ypad=12)
ax0.text(0.241, 0.378, 'June 11 2016\nHigh aerosol', va='top', ha='left', fontsize=44, linespacing=1.38)
ax0.text(0.411, 0.2935, 'Aug 29 2015\nLow aerosol', va='top', ha='left', fontsize=44, linespacing=1.38)
ftext(112, 590, r'$\mathcal{A}$', fontsize=95, math_fontfamily='cm', ha='center', va='center')
ftext(690, 1415, r'$\mathbf{f}_\mathbf{c}$', fontsize=72, math_fontfamily='cm', ha='center', va='center')

# ---------------- right text block
ftext(1416, 163, RIGHT_TITLE, fontsize=52, fontweight='bold', ha='left', va='center')
row = 0
for item in RIGHT_ITEMS:
    ftext(1416, 251 + 86.5 * row, '-', fontsize=51, ha='left', va='center')
    for line in item:
        ftext(1511, 251 + 86.5 * row, line, fontsize=51, ha='left', va='center')
        row += 1

# ---------------- middle panels
mids = [
    (px_axes(225, 1520, 1076, 2320), [AUG_W2_RED, AUG_W2_GREEN, AUG_W2_BLUE, AUG_W2_CYAN],
     'Aug 29 2015\nWeaker\nconvection', 12.59, 104, 637),
    (px_axes(1383, 1524, 2237, 2321), [JUN_W2_RED, JUN_W2_GREEN, JUN_W2_BLUE, JUN_W2_CYAN],
     'June 11 2016\nStronger\nconvection', 13.0, 1257, 1795),
]
for ax, vals, label, tx, ylab_x, xlab_x in mids:
    for times, v, c in zip([T_RED, T_GREEN, T_BLUE, T_CYAN], vals, [RED, GREEN, BLUE, CYAN]):
        sns.scatterplot(x=times, y=v, color=c, s=120, linewidth=0, ax=ax)
    ax.set_xlim(8, 18)
    ax.set_ylim(-0.015, 1.5)
    ax.xaxis.set_major_locator(MultipleLocator(2))
    ax.xaxis.set_minor_locator(MultipleLocator(1))
    ax.yaxis.set_major_locator(MultipleLocator(0.5))
    ax.yaxis.set_minor_locator(MultipleLocator(0.1))
    ax.yaxis.set_major_formatter(FormatStrFormatter('%.1f'))
    style(ax, 28)
    ax.text(tx, 1.38, label, va='top', ha='left', fontsize=45, linespacing=1.39)
    ftext(ylab_x, 1920, 'Cloud base W²', rotation=90, fontsize=39, ha='center', va='center')
    ftext(xlab_x, 2432, 'Time (hours)', fontsize=38, ha='center', va='center')

# ---------------- bottom panels
bots = [
    (px_axes(231, 2508, 1101, 3320),
     [AUG_RED_STRIPES, AUG_GREEN_STRIPES, AUG_BLUE_STRIPES, AUG_CYAN_STRIPES],
     [AUG_RED_CLOUD, AUG_GREEN_CLOUD, AUG_BLUE_CLOUD, AUG_CYAN_CLOUD],
     [AUG_RED_FITS, AUG_GREEN_FITS, AUG_BLUE_FITS, AUG_CYAN_FITS],
     'Aug 29 2015:\nShallow\ndevelopment', 2.1e5, 66, 657, 95),
    (px_axes(1378, 2508, 2248, 3315),
     [JUN_RED_STRIPES, JUN_GREEN_STRIPES, JUN_BLUE_STRIPES, JUN_CYAN_STRIPES],
     [JUN_RED_CLOUD, JUN_GREEN_CLOUD, JUN_BLUE_CLOUD, JUN_CYAN_CLOUD],
     [JUN_RED_FITS, JUN_GREEN_FITS, JUN_BLUE_FITS, JUN_CYAN_FITS],
     'June 11 2016:\nAspect ratio\nvariability', 2.7e5, 1206, 1798, 66),
]
for ax, stripes, clouds, fits, label, tx, ylab_x, xlab_x, cloud_s in bots:
    ax.set_xscale('log')
    ax.set_yscale('log')
    for st, cl, c in zip(stripes, clouds, [RED, GREEN, BLUE, CYAN]):
        sx, sy = stripe_points(st)
        sns.scatterplot(x=sx, y=sy, color=c, s=48, linewidth=0, ax=ax)
        pts = np.array(cl)
        sns.scatterplot(x=10 ** pts[:, 0], y=10 ** pts[:, 1], color=c, s=cloud_s, linewidth=0, ax=ax)
    for ft, c in zip(fits, [RED, GREEN, BLUE, CYAN]):
        for a, b in ft:
            ax.plot([1e3, 1e8], [10 ** a, 10 ** b], color=c, lw=1.6)
    ax.set_xlim(1e3, 1e8)
    ax.set_ylim(10, 1e4)
    ax.xaxis.set_major_locator(FixedLocator([1e3, 1e4, 1e5, 1e6, 1e7, 1e8]))
    ax.set_xticklabels([r'$10^{%d}$' % n for n in range(3, 9)])
    ax.xaxis.set_minor_locator(LogLocator(base=10, subs=range(2, 10), numticks=20))
    ax.xaxis.set_minor_formatter(NullFormatter())
    ax.yaxis.set_major_locator(FixedLocator([10, 100, 1000, 10000]))
    ax.set_yticklabels(['10', '100', '1000', '10000'])
    ax.yaxis.set_minor_locator(LogLocator(base=10, subs=range(2, 10), numticks=20))
    ax.yaxis.set_minor_formatter(NullFormatter())
    style(ax, 27)
    ax.text(tx, 7800, label, va='top', ha='left', fontsize=45, linespacing=1.39)
    ftext(ylab_x, 2960, 'Cloud depth (m)', rotation=90, fontsize=38, ha='center', va='center')
    ftext(xlab_x, 3428, 'Cloud area (m²)', fontsize=39, ha='center', va='center')

fig.savefig('out.png', dpi=100, facecolor='white')
